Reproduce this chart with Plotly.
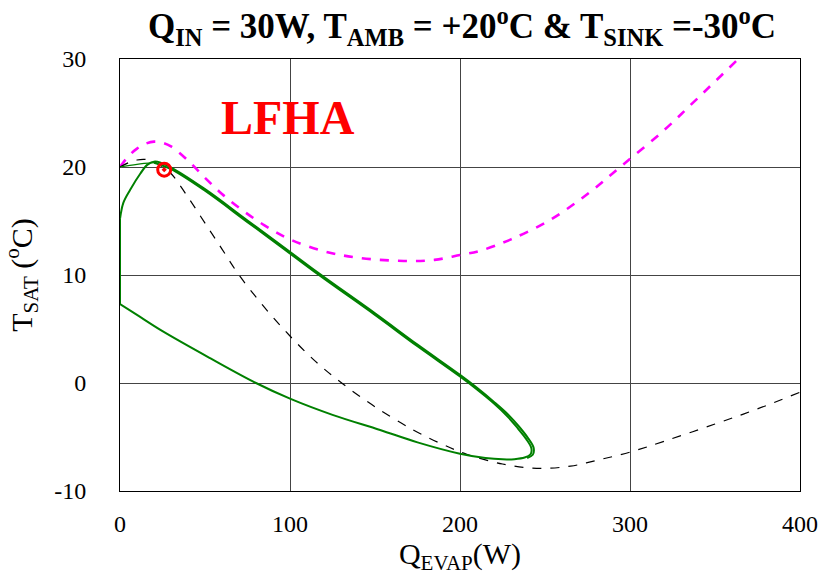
import plotly.graph_objects as go

# ---- data ----
x_ticks = [0, 100, 200, 300, 400]
y_ticks = [-10, 0, 10, 20, 30]

mag_q = [0, 5, 10, 15, 20, 25, 30, 40, 50, 60, 72, 85, 100, 120, 140, 167, 185, 200, 212, 230, 253, 275, 295, 320, 340, 363.7]
mag_t = [20.0, 21.0, 21.7, 22.15, 22.35, 22.25, 21.9, 20.6, 19.0, 17.5, 16.0, 14.6, 13.3, 12.2, 11.6, 11.3, 11.4, 11.85, 12.25, 13.3, 15.1, 17.5, 20.1, 23.4, 26.4, 30.0]

blk_q = [0, 5, 10, 15, 20, 25, 30, 40, 50, 60, 70, 85, 100, 115, 130.4, 150, 172.5, 190, 204, 225, 245, 265, 282, 300, 320, 350, 375, 400]
blk_t = [20.0, 20.4, 20.65, 20.7, 20.5, 20.0, 19.4, 17.2, 14.8, 12.4, 10.0, 7.0, 4.35, 2.0, 0.0, -2.2, -4.35, -5.7, -6.6, -7.5, -7.9, -7.7, -7.1, -6.4, -5.4, -3.8, -2.4, -0.85]

# green trajectory, in order of travel
g_start_q = [0, 10, 20]
g_start_t = [20.0, 20.25, 20.4]

g_pass1_q = [20, 30, 50, 75, 94, 117, 150, 175, 200, 210, 220, 228, 234, 239, 242, 241.5, 238, 232, 225, 215, 200, 175, 153, 125, 100, 80, 53, 25, 10, 0]
g_pass1_t = [20.4, 19.8, 17.8, 14.9, 12.7, 10.0, 6.3, 3.4, 0.6, -0.6, -1.9, -3.1, -4.2, -5.2, -6.05, -6.6, -6.9, -7.05, -7.07, -6.95, -6.55, -5.5, -4.35, -2.95, -1.45, 0.0, 2.3, 4.8, 6.3, 7.3]

g_wall_q = [0, 0]
g_wall_t = [7.3, 15.2]

g_pass2_q = [0, 2, 6, 12, 16, 20.6, 30, 50, 75, 94, 117, 150, 175, 200, 210, 220, 228.5, 234.8, 240, 243.3, 242.8, 239.5]
g_pass2_t = [15.2, 16.7, 17.9, 19.4, 20.2, 20.5, 19.95, 17.95, 15.05, 12.85, 10.15, 6.45, 3.55, 0.75, -0.45, -1.75, -2.95, -4.05, -5.1, -6.0, -6.65, -6.95]

marker_q = [26]
marker_t = [19.75]

FONT = "Liberation Serif"
GREEN = "#008000"

fig = go.Figure()
fig.add_trace(go.Scatter(x=mag_q, y=mag_t, mode="lines", line_shape="spline",
                         line=dict(color="#ff00ff", width=2.6, dash="dash", smoothing=1.0), hoverinfo="skip"))
fig.add_trace(go.Scatter(x=blk_q, y=blk_t, mode="lines", line_shape="spline",
                         line=dict(color="black", width=1.2, dash="dash", smoothing=1.0), hoverinfo="skip"))
fig.add_trace(go.Scatter(x=g_start_q, y=g_start_t, mode="lines", line_shape="spline",
                         line=dict(color=GREEN, width=1.2), cliponaxis=False, hoverinfo="skip"))
fig.add_trace(go.Scatter(x=g_pass1_q, y=g_pass1_t, mode="lines", line_shape="spline",
                         line=dict(color=GREEN, width=2.0, smoothing=1.0), cliponaxis=False, hoverinfo="skip"))
fig.add_trace(go.Scatter(x=g_wall_q, y=g_wall_t, mode="lines",
                         line=dict(color=GREEN, width=2.0), cliponaxis=False, hoverinfo="skip"))
fig.add_trace(go.Scatter(x=g_pass2_q, y=g_pass2_t, mode="lines", line_shape="spline",
                         line=dict(color=GREEN, width=2.0, smoothing=1.0), cliponaxis=False, hoverinfo="skip"))
fig.add_trace(go.Scatter(x=marker_q, y=marker_t, mode="markers", cliponaxis=False,
                         marker=dict(symbol="circle-open-dot", size=13, color="#ff0000",
                                     line=dict(color="#ff0000", width=3)), hoverinfo="skip"))

fig.add_annotation(x=99, y=24.6, text="<b>LFHA</b>", showarrow=False,
                   font=dict(family=FONT, size=48, color="#ff0000"))

fig.update_layout(
    width=828, height=578,
    margin=dict(l=120, r=28, t=59, b=87),
    paper_bgcolor="white", plot_bgcolor="white",
    showlegend=False,
    title=dict(text="<b>Q<sub>IN</sub> = 30W, T<sub>AMB</sub> = +20<sup>o</sup>C &amp; T<sub>SINK</sub> =-30<sup>o</sup>C</b>",
               x=0.558, xanchor="center", y=0.955, yanchor="middle",
               font=dict(family=FONT, size=35, color="black")),
    font=dict(family=FONT, color="black"),
)
fig.update_xaxes(range=[0, 400], tickvals=x_ticks, ticktext=[str(v) for v in x_ticks],
                 showgrid=True, gridcolor="#444", gridwidth=1, zeroline=False,
                 showline=True, linecolor="black", linewidth=1, mirror=True, automargin=False,
                 ticks="", ticklabelstandoff=11, tickfont=dict(family=FONT, size=24),
                 title=dict(text="Q<sub>EVAP</sub>(W)", font=dict(family=FONT, size=30), standoff=2))
fig.update_yaxes(range=[-10, 30], tickvals=y_ticks, ticktext=[str(v) for v in y_ticks],
                 showgrid=True, gridcolor="#444", gridwidth=1, zeroline=False,
                 showline=True, linecolor="black", linewidth=1, mirror=True, automargin=False,
                 ticks="", ticklabelstandoff=28, tickfont=dict(family=FONT, size=24),
                 title=dict(text="T<sub>SAT</sub> (<sup>o</sup>C)", font=dict(family=FONT, size=30), standoff=14))

fig.write_html("out.html")
